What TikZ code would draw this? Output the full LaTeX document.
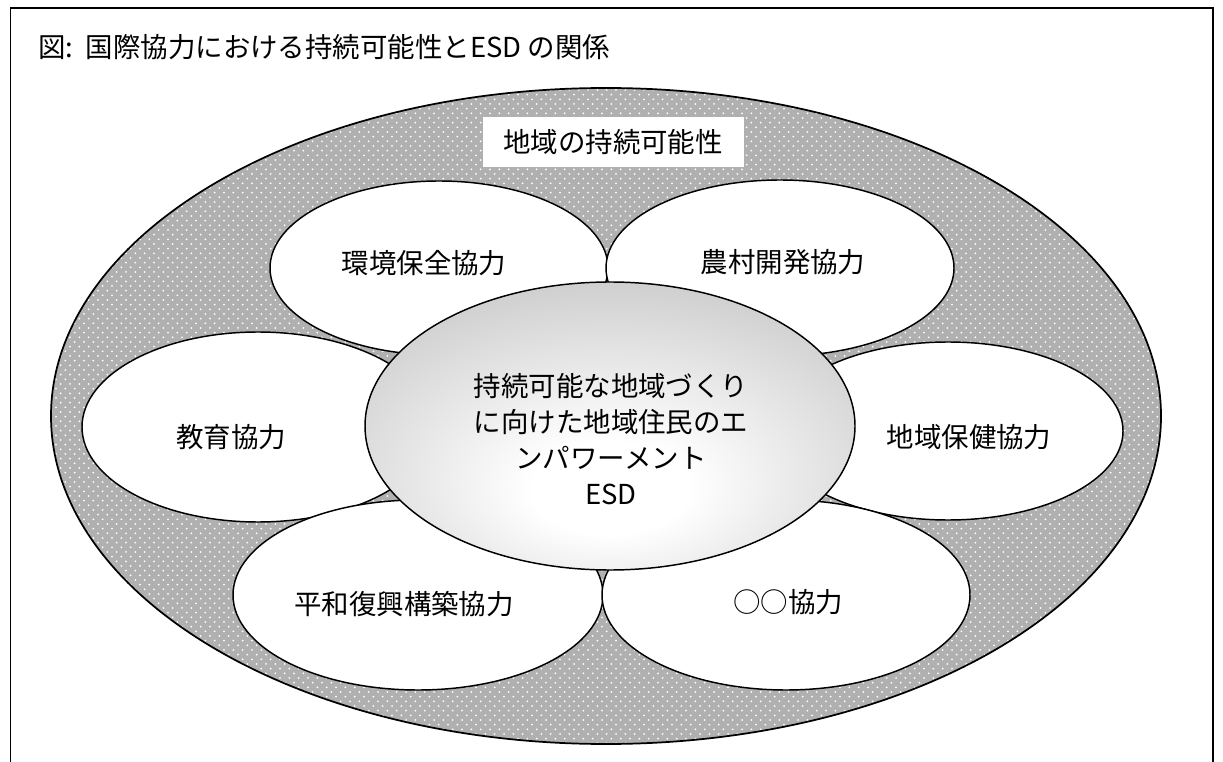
\documentclass[tikz,border=0pt]{standalone}
\usepackage{fontspec}
\setmainfont{Noto Sans CJK JP}
\usetikzlibrary{patterns}

\definecolor{ringgray}{RGB}{176,176,176}
\definecolor{coregray}{RGB}{168,168,168}

\pgfdeclarepatternformonly{ringdots}{\pgfqpoint{-1pt}{-1pt}}{\pgfqpoint{8pt}{8pt}}{\pgfqpoint{7pt}{7pt}}{%
  \pgfpathcircle{\pgfqpoint{0pt}{0pt}}{0.75pt}%
  \pgfpathcircle{\pgfqpoint{3.5pt}{3.5pt}}{0.75pt}%
  \pgfusepath{fill}%
}
\pgfdeclareradialshading{coreshade}{\pgfpoint{0bp}{-12bp}}{color(0bp)=(white); color(8bp)=(white); color(52bp)=(coregray); color(80bp)=(coregray)}

\tikzset{
  txt/.style={font=\fontsize{20.6pt}{27pt}\selectfont, inner sep=0pt},
  petal/.style={draw, fill=white, line width=1.1pt},
}

\begin{document}
\begin{tikzpicture}[x=0.75pt,y=0.75pt,yscale=-1,xscale=1]
\useasboundingbox (0,0) rectangle (1223,762);

%Frame
\draw [line width=1.3pt] (10.5,762) -- (10.5,8) -- (1213,8) -- (1213,762) ;
\node [txt, anchor=west] (title) at (38,47) {図:\ \ 国際協力における持続可能性とESD の関係};

%Outer ring
\fill [ringgray] (606,416) ellipse [x radius=555, y radius=328] ;
\fill [pattern=ringdots, pattern color=white] (606,416) ellipse [x radius=555, y radius=328] ;
\draw [line width=1.3pt] (606,416) ellipse [x radius=555, y radius=328] ;
\fill [white] (483,117) rectangle (744,167) ;
\node [txt] (ring) at (613,142) {地域の持続可能性};

%Petals
\draw [petal] (439,268) ellipse [x radius=169, y radius=87] ;
\draw [petal] (780,268) ellipse [x radius=174, y radius=88] ;
\draw [petal] (258,427) ellipse [x radius=176, y radius=95] ;
\draw [petal] (948,431) ellipse [x radius=175, y radius=89] ;
\draw [petal] (418,595) ellipse [x radius=185, y radius=95] ;
\draw [petal] (786,595) ellipse [x radius=184, y radius=95] ;
\node [txt] (env) at (424,263) {環境保全協力};
\node [txt] (rural) at (783,262) {農村開発協力};
\node [txt] (edu) at (231,437) {教育協力};
\node [txt] (health) at (969,437) {地域保健協力};
\node [txt] (peace) at (404,604) {平和復興構築協力};
\node [txt] (other) at (788,602) {○○協力};

%Core
\shade [shading=coreshade] (610,426) ellipse [x radius=245, y radius=144] ;
\draw [line width=1.1pt] (610,426) ellipse [x radius=245, y radius=144] ;
\node [txt, align=center] (core) at (611,439)
  {持続可能な地域づくり\\に向けた地域住民のエ\\ンパワーメント\\ESD};

\end{tikzpicture}
\end{document}
